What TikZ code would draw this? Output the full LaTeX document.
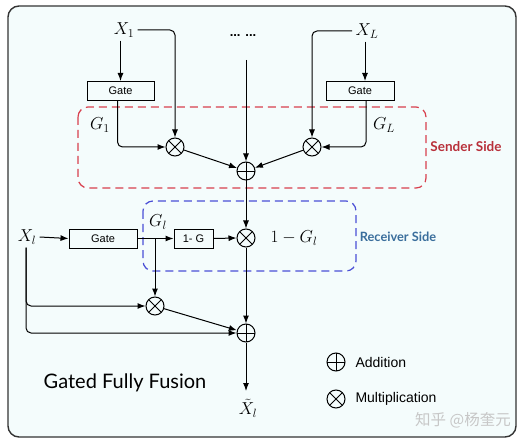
\documentclass[tikz,border=0pt]{standalone}
\usepackage{fontspec}
\usepackage{amsmath}
\newfontfamily\hel{Liberation Sans}
\newfontfamily\gill{Lato}
\newfontfamily\cjk{Noto Sans CJK SC}
\usetikzlibrary{arrows.meta}
\definecolor{bgc}{HTML}{F4FCFC}
\definecolor{redd}{HTML}{D8404E}
\definecolor{redt}{HTML}{B8303A}
\definecolor{blued}{HTML}{4B4FD6}
\definecolor{bluet}{HTML}{3A6E9C}
\tikzset{
  arr/.style={line width=1pt,-{Latex[length=8pt,width=6pt]}},
  ln/.style={line width=1pt},
  gatebox/.style={draw,line width=1pt,minimum height=19pt,inner sep=0pt,font=\hel\fontsize{11}{12}\selectfont},
  mlab/.style={font=\fontsize{16.5}{19}\selectfont},
  opl/.style={circle,draw,line width=1pt,minimum size=18pt,inner sep=0pt,
    path picture={\draw[line width=0.9pt] (path picture bounding box.north)--(path picture bounding box.south)
      (path picture bounding box.west)--(path picture bounding box.east);}},
  otm/.style={circle,draw,line width=1pt,minimum size=18pt,inner sep=0pt,
    path picture={\draw[line width=0.9pt] (path picture bounding box.north west)--(path picture bounding box.south east)
      (path picture bounding box.south west)--(path picture bounding box.north east);}},
}
\begin{document}
\begin{tikzpicture}[x=1pt,y=-1pt]
\useasboundingbox (0,0) rectangle (526,443);
\draw[fill=bgc,draw=black!80,line width=1.4pt,rounded corners=11] (8,6) rectangle (516,437);
% dashed regions
\draw[redd,line width=1.2pt,dash pattern=on 8pt off 5pt,rounded corners=10] (78,107) rectangle (426,188);
\draw[blued,line width=1.2pt,dash pattern=on 8pt off 5pt,rounded corners=10] (143,201) rectangle (356,271);
\node[font=\gill\bfseries\fontsize{13.5}{15}\selectfont,text=redt] (snd) at (466,147) {Sender Side};
\node[font=\gill\bfseries\fontsize{12.8}{14}\selectfont,text=bluet] (rcv) at (398,237) {Receiver Side};
% top-left
\node[mlab] (X1) at (124,30) {$X_1$};
\node[gatebox,minimum width=67pt] (g1) at (120.5,91) {Gate};
\node[otm] (m1) at (175,147) {};
\node[mlab] (G1) at (100,125) {$G_1$};
% top-right
\node[mlab] (XL) at (367,31) {$X_L$};
\node[gatebox,minimum width=68pt] (gL) at (360,91) {Gate};
\node[otm] (mL) at (312,147) {};
\node[mlab] (GL) at (384,125) {$G_L$};
% middle
\node[font=\hel\bfseries\fontsize{13}{14}\selectfont] (dots) at (243,36) {... ...};
\coordinate (dt) at (246,60);
\node[opl] (p1) at (246,171) {};
% receiver
\node[mlab] (Xl) at (27,237) {$X_l$};
\node[gatebox,minimum width=68pt] (gl) at (103,238.5) {Gate};
\node[gatebox,minimum width=39pt] (omg) at (193.5,238.5) {1- G};
\node[otm] (mR) at (246,238) {};
\node[mlab] (Gl) at (158,222) {$G_l$};
\node[mlab] (omGl) at (294,238) {$1-G_l$};
\coordinate (br) at (155,238.5);
\node[otm] (m2) at (155,306) {};
\node[opl] (p2) at (246,333) {};
\node[mlab] (Xt) at (248,408) {$\tilde{X}_l$};
\coordinate (xtin) at (246,391);
% connectors
\draw[arr] (X1.south -| g1) -- (g1.north);
\draw[arr,rounded corners=5] (X1.east) -| (m1.north);
\draw[arr,rounded corners=5] ([xshift=-3pt]g1.south) |- (m1.west);
\draw[arr] (XL.south -| 365,0) -- (gL.north -| 365,0);
\draw[arr,rounded corners=5] (XL.west) -| (mL.north);
\draw[arr,rounded corners=5] ([xshift=6pt]gL.south) |- (mL.east);
\draw[arr] (dt) -- (p1.north);
\draw[arr] (m1) -- (p1);
\draw[arr] (mL) -- (p1);
\draw[arr] (p1) -- (mR);
\draw[arr] (Xl.east) -- (gl.west);
\draw[arr] (gl.east) -- (omg.west);
\draw[arr] (omg.east) -- (mR.west);
\draw[arr] (br) -- (m2.north);
\draw[arr,rounded corners=5] ([xshift=-1pt]Xl.south) |- (m2.west);
\draw[arr,rounded corners=5] ([xshift=-1pt]Xl.south) |- (p2.west);
\draw[arr] (m2) -- (p2);
\draw[arr] (mR) -- (p2);
\draw[arr] (p2) -- (xtin);
% caption and legend
\node[font=\gill\fontsize{20}{23}\selectfont] (title) at (125,383) {Gated Fully Fusion};
\node[opl] (lp) at (336,362) {};
\node[anchor=west,font=\hel\fontsize{14}{16}\selectfont] (la) at (352,362) {Addition};
\node[otm] (lm) at (336,399) {};
\node[anchor=west,font=\hel\fontsize{14}{16}\selectfont] (lmt) at (352,399) {Multiplication};
\node[font=\cjk\fontsize{15.5}{17}\selectfont,text=black!22] (wm) at (463,420) {知乎 @杨奎元};
\end{tikzpicture}
\end{document}
